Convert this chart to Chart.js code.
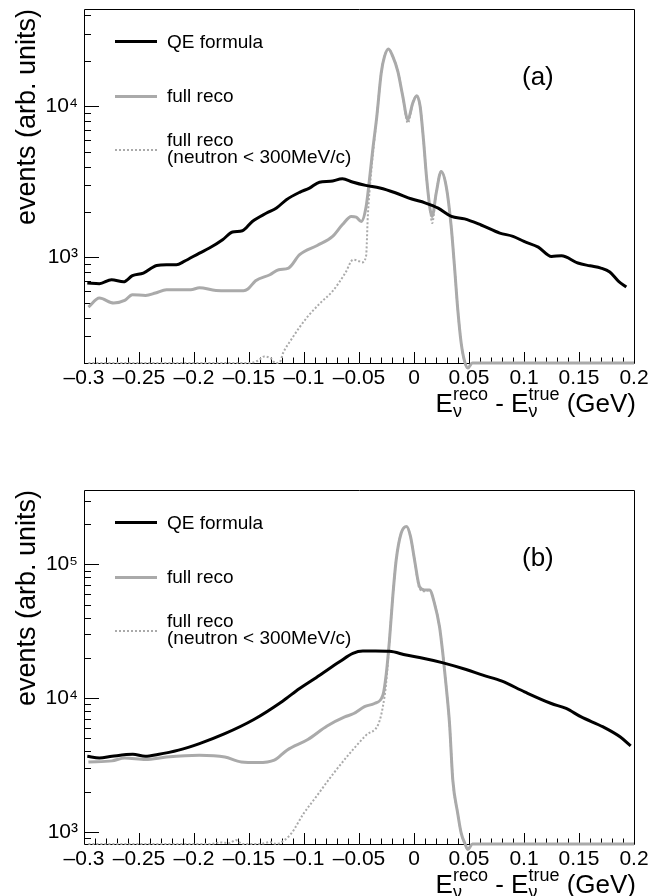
<!doctype html>
<html>
  <head>
    <meta charset="utf-8">
    <title>E reco - E true</title>
    <style>
      html, body {
        margin: 0;
        padding: 0;
        background: #fff;
      }
      body {
        width: 650px;
        height: 896px;
        position: relative;
        overflow: hidden;
        font-family: "Liberation Sans", Arial, Helvetica, sans-serif;
        color: #000;
      }
      .pad { position: absolute; left: 0; width: 650px; height: 415px; }
      .pad canvas { position: absolute; left: 0; top: 0; }
      .lline { position: absolute; left: 115px; width: 42px; height: 0; }
      .ltxt { position: absolute; left: 167px; font-size: 19px; line-height: 20px; white-space: nowrap; }
      .tag { position: absolute; left: 522px; top: 61px; font-size: 26px; line-height: 30px; }
      .xtitle { position: absolute; right: 14px; top: 388px; font-size: 26px; line-height: 30px; white-space: nowrap; }
      .ss { position: relative; }
      .sp { position: relative; top: -12px; font-size: 18px; }
      .sb { position: absolute; left: 0; top: 14px; font-size: 18px; line-height: 18px; }
    </style>
  </head>
  <body>

    <div class="pad" style="top:0">
      <canvas id="chartA" width="650" height="415"></canvas>
      <div class="lline" style="top:40px; border-top:3px solid #000"></div>
      <div class="ltxt" style="top:32px">QE formula</div>
      <div class="lline" style="top:95px; border-top:3px solid #aaa"></div>
      <div class="ltxt" style="top:86px">full reco</div>
      <div class="lline" style="top:149px; border-top:2px dotted #aaa"></div>
      <div class="ltxt" style="top:130px">full reco</div>
      <div class="ltxt" style="top:147px">(neutron &lt; 300MeV/c)</div>
      <div class="tag">(a)</div>
      <div class="xtitle">E<span class="ss"><span class="sp">reco</span><span class="sb">ν</span></span> - E<span class="ss"><span class="sp">true</span><span class="sb">ν</span></span> (GeV)</div>
    </div>

    <div class="pad" style="top:481px">
      <canvas id="chartB" width="650" height="415"></canvas>
      <div class="lline" style="top:40px; border-top:3px solid #000"></div>
      <div class="ltxt" style="top:32px">QE formula</div>
      <div class="lline" style="top:95px; border-top:3px solid #aaa"></div>
      <div class="ltxt" style="top:86px">full reco</div>
      <div class="lline" style="top:149px; border-top:2px dotted #aaa"></div>
      <div class="ltxt" style="top:130px">full reco</div>
      <div class="ltxt" style="top:147px">(neutron &lt; 300MeV/c)</div>
      <div class="tag">(b)</div>
      <div class="xtitle">E<span class="ss"><span class="sp">reco</span><span class="sb">ν</span></span> - E<span class="ss"><span class="sp">true</span><span class="sb">ν</span></span> (GeV)</div>
    </div>

    <script src="https://cdn.jsdelivr.net/npm/chart.js@4"></script>
    <script>
      var FONT = '"Liberation Sans", Arial, Helvetica, sans-serif'
      var BLACK = '#000000'
      var GRAY = '#aaaaaa'

      // panel (a): E_reco - E_true (GeV) and events
      var aQeE = [-0.297,-0.286,-0.275,-0.264,-0.256,-0.246,-0.234,-0.225,-0.216,-0.209,-0.195,-0.186,-0.174,-0.165,-0.156,-0.147,-0.134,-0.125,-0.116,-0.104,-0.095,-0.086,-0.076,-0.065,-0.056,-0.044,-0.031,-0.017,-0.002,0.010,0.022,0.034,0.046,0.061,0.078,0.090,0.100,0.113,0.125,0.134,0.149,0.160,0.170,0.178,0.186,0.193]
      var aQeN = [677,670,712,690,757,788,885,895,895,941,1069,1154,1310,1473,1502,1731,1968,2125,2412,2700,2880,3150,3190,3317,3160,3000,2880,2680,2437,2300,2120,1870,1800,1640,1450,1380,1276,1170,1015,1026,918,880,850,800,694,637]

      var aFullE = [-0.296,-0.286,-0.273,-0.263,-0.256,-0.244,-0.235,-0.225,-0.203,-0.195,-0.180,-0.155,-0.151,-0.144,-0.131,-0.123,-0.114,-0.104,-0.088,-0.074,-0.065,-0.057,-0.0526,-0.048,-0.0435,-0.0405,-0.0375,-0.0338,-0.0298,-0.0268,-0.0232,-0.0193,-0.0147,-0.0102,-0.0056,-0.0011,0.0025,0.0056,0.0086,0.0116,0.0147,0.0165,0.0202,0.0247,0.0293,0.0338,0.0368,0.0398,0.0429,0.046,0.049,0.053,0.2]
      var aFullN = [469,538,499,519,566,560,581,611,611,630,605,602,618,701,768,829,851,1042,1200,1378,1650,1868,1851,1731,2175,3270,5163,8590,16640,21420,23990,21420,17060,11660,8163,10530,11770,10000,6020,3270,2070,1868,2670,3711,2950,1605,872,451,271,205,185,200,200]

      var aSlowE = [-0.296,-0.150,-0.142,-0.136,-0.130,-0.126,-0.122,-0.119,-0.1117,-0.104,-0.0965,-0.0852,-0.0738,-0.0625,-0.0553,-0.0495,-0.0473,-0.0435,-0.042,-0.039,-0.036,-0.0338,-0.0298,-0.0268,-0.0232,-0.0193,-0.0147,-0.0102,-0.0056,-0.0011,0.0025,0.0056,0.0086,0.0116,0.0147,0.0165,0.0202,0.0247,0.0293,0.0338,0.0368,0.0398,0.0429,0.046,0.049,0.053,0.2]
      var aSlowN = [200,200,207,221,214,200,203,233,285,345,407,499,600,788,966,941,927,1030,1868,3620,6020,8590,16640,21420,23990,21420,17060,11660,7770,10530,11770,10000,6020,3270,2070,1690,2670,3711,2950,1605,872,451,271,205,185,200,200]

      // panel (b)
      var bQeE = [-0.297,-0.286,-0.2745,-0.2556,-0.2443,-0.233,-0.214,-0.195,-0.172,-0.146,-0.1195,-0.104,-0.089,-0.0677,-0.0556,-0.0465,-0.035,-0.0223,-0.0071,0.005,0.0265,0.0474,0.0626,0.080,0.1005,0.1248,0.1383,0.152,0.172,0.1876,0.197]
      var bQeN = [3678,3570,3678,3805,3678,3790,4090,4580,5430,6900,9500,11820,14230,18700,21610,22500,22500,22400,21000,20180,18380,16390,14860,13400,11150,9130,8380,7240,6100,5130,4400]

      var bFullE = [-0.296,-0.2745,-0.263,-0.244,-0.225,-0.195,-0.172,-0.157,-0.142,-0.127,-0.1155,-0.0965,-0.079,-0.063,-0.0548,-0.045,-0.036,-0.0283,-0.0253,-0.0223,-0.0193,-0.0162,-0.0117,-0.0068,-0.0032,0.0005,0.005,0.0095,0.0141,0.0186,0.0232,0.0262,0.0293,0.0323,0.0353,0.0398,0.0429,0.046,0.049,0.053,0.2]
      var bFullN = [3334,3400,3570,3480,3630,3740,3630,3334,3300,3440,4090,4910,6200,7240,7680,8640,9130,10500,15000,27200,57400,108000,171000,192000,162000,108000,68200,64400,64400,51200,34200,21600,12150,6460,2430,1370,980,830,740,813,813]

      var bSlowE = [-0.296,-0.185,-0.176,-0.168,-0.162,-0.156,-0.140,-0.131,-0.125,-0.1195,-0.1117,-0.1004,-0.089,-0.0738,-0.0586,-0.0435,-0.0322,-0.0283,-0.0253,-0.0223,-0.0193,-0.0162,-0.0117,-0.0068,-0.0032,0.0005,0.005,0.0095,0.0141,0.0186,0.0232,0.0262,0.0293,0.0323,0.0353,0.0398,0.0429,0.046,0.049,0.053,0.2]
      var bSlowN = [813,813,835,825,870,813,813,840,813,850,970,1370,1830,2700,3850,5300,6460,8640,13000,27200,57400,108000,171000,192000,162000,108000,66000,63000,64400,51200,34200,21600,12150,6460,2430,1370,980,830,740,813,813]

      var aRange = [200, 44150]
      var bRange = [813, 360000]
      var aDecades = [1e3, 1e4]
      var bDecades = [1e3, 1e4, 1e5]

      var points = function(xs, ys) {
        return xs.map(function(x, i) { return {x: x, y: ys[i]} })
      }

      var SUP = {'0': '\u2070', '1': '\u00b9', '2': '\u00b2', '3': '\u00b3', '4': '\u2074', '5': '\u2075', '6': '\u2076', '7': '\u2077', '8': '\u2078', '9': '\u2079'}
      var fmtY = function(v) {
        var e = String(Math.round(Math.log10(v)))
        return '10' + e.split('').map(function(c) { return SUP[c] }).join('')
      }
      var fmtX = function(v) {
        return String(Math.round(v * 100) / 100).replace('-', '\u2013')
      }

      // ROOT like frame with inward ticks, placed through the chart scales
      var rootAxes = {
        id: 'rootAxes',
        beforeDatasetsDraw: function(chart) {
          var ctx = chart.ctx, a = chart.chartArea
          var xs = chart.scales.x, ys = chart.scales.y
          ctx.save()
          ctx.strokeStyle = '#000'
          ctx.lineWidth = 1
          ctx.beginPath()
          ctx.rect(a.left + 0.5, a.top + 0.5, a.right - a.left, a.bottom - a.top)
          for (var i = 0; i <= 50; i++) {
            var px = Math.round(xs.getPixelForValue(xs.min + i * 0.01)) + 0.5
            ctx.moveTo(px, a.bottom)
            ctx.lineTo(px, a.bottom - (i % 5 === 0 ? 11 : 5.5))
          }
          var lo = Math.floor(Math.log10(ys.min)), hi = Math.ceil(Math.log10(ys.max))
          for (var d = lo; d <= hi; d++) {
            for (var k = 1; k <= 9; k++) {
              var val = k * Math.pow(10, d)
              if (val < ys.min || val > ys.max) continue
              var py = Math.round(ys.getPixelForValue(val)) + 0.5
              ctx.moveTo(a.left, py)
              ctx.lineTo(a.left + (k === 1 ? 15 : 7), py)
            }
          }
          ctx.stroke()
          ctx.restore()
        }
      }

      var makeChart = function(id, qe, full, slow, range, decades) {
        var under = {left: 0, top: 0, right: 0, bottom: 8}
        return new Chart(document.getElementById(id), {
          type: 'line',
          data: {
            datasets: [
              {label: 'QE formula', data: qe, borderColor: BLACK, borderWidth: 3},
              {label: 'full reco', data: full, borderColor: GRAY, borderWidth: 3, clip: under},
              {label: 'full reco (neutron < 300MeV/c)', data: slow, borderColor: GRAY, borderWidth: 2, borderDash: [2, 2], clip: under}
            ]
          },
          options: {
            responsive: false,
            animation: false,
            events: [],
            layout: {padding: {top: 9, right: 16, left: 0, bottom: 0}},
            plugins: {legend: {display: false}, tooltip: {enabled: false}},
            elements: {
              point: {radius: 0},
              line: {tension: 0.4, cubicInterpolationMode: 'monotone', capBezierPoints: false, fill: false}
            },
            scales: {
              x: {
                type: 'linear',
                min: -0.3,
                max: 0.2,
                grid: {display: false, drawTicks: false},
                border: {display: false},
                ticks: {stepSize: 0.05, autoSkip: false, maxRotation: 0, padding: 3, color: '#000',
                  font: {family: FONT, size: 21}, callback: fmtX},
                afterFit: function(s) { s.height = 52; s.paddingLeft = 0; s.paddingRight = 0 }
              },
              y: {
                type: 'logarithmic',
                min: range[0],
                max: range[1],
                grid: {display: false, drawTicks: false},
                border: {display: false},
                ticks: {autoSkip: false, padding: 6, color: '#000', font: {family: FONT, size: 21}, callback: fmtY},
                afterBuildTicks: function(s) { s.ticks = decades.map(function(v) { return {value: v} }) },
                afterFit: function(s) { s.width = 84; s.paddingTop = 0; s.paddingBottom = 0 },
                title: {display: true, text: 'events (arb. units)', align: 'end', color: '#000',
                  font: {family: FONT, size: 27}, padding: {top: 11, bottom: 0}}
              }
            }
          },
          plugins: [rootAxes]
        })
      }

      makeChart('chartA', points(aQeE, aQeN), points(aFullE, aFullN), points(aSlowE, aSlowN), aRange, aDecades)
      makeChart('chartB', points(bQeE, bQeN), points(bFullE, bFullN), points(bSlowE, bSlowN), bRange, bDecades)
    </script>
  </body>
</html>
